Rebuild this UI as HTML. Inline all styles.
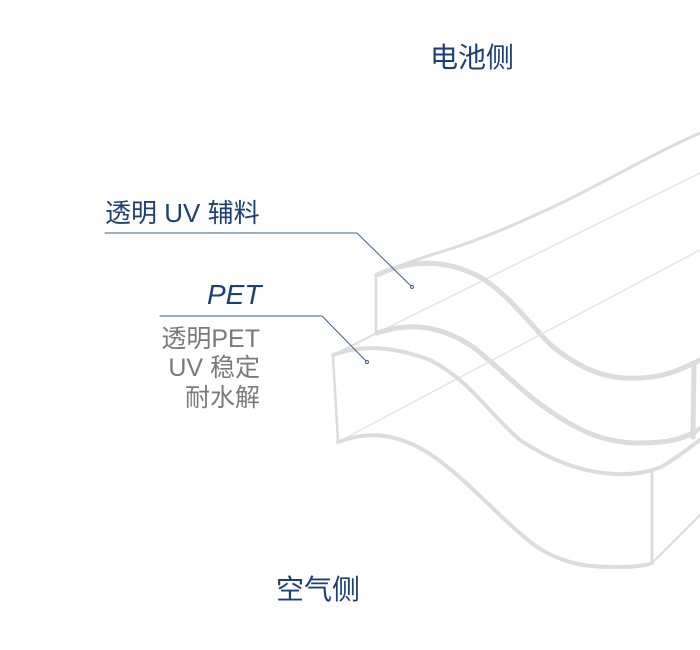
<!DOCTYPE html>
<html><head><meta charset="utf-8"><style>
html,body{margin:0;padding:0;background:#fff;}
body{width:700px;height:650px;position:relative;overflow:hidden;font-family:"Liberation Sans","Noto Sans CJK SC",sans-serif;}
.t{position:absolute;white-space:nowrap;line-height:1;}
.b{color:#1e3f73;}
.g{color:#7a7a7a;font-size:25px;text-align:right;width:200px;}
</style></head><body>
<svg width="700" height="650" style="position:absolute;left:0;top:0" fill="none" stroke-linecap="round" stroke-linejoin="round">
<g stroke="#dcdcdc">
<path d="M377,275 C400,265 430,255 453,248 C490,236 520,222 553,207 C600,185 650,155 700,133" stroke-width="3"/>
<path d="M377,333 L700,173" stroke-width="1.5" stroke="#e4e4e4"/>
<path d="M376,276 L376,334" stroke-width="2.5"/>
<path d="M377,275 C405,262 440,256 480,277 C510,295 530,325 553,347 C585,372 610,380 640,378 C665,377 680,370 700,360" stroke-width="5"/>
<path d="M694,365 L693,437" stroke-width="5"/>
<path d="M377,333 C410,322 440,325 473,347 C500,368 525,395 553,413 C585,435 610,443 640,443 C665,443 680,440 695,432" stroke-width="5"/>
<path d="M695,432 L700,428" stroke-width="4"/>
<path d="M333,355 L377,333" stroke-width="2"/>
<path d="M333,356 L338,442" stroke-width="2.5"/>
<path d="M338,442 L700,250" stroke-width="1.5" stroke="#e4e4e4"/>
<path d="M333,355 C355,347 385,343 430,360 C470,380 490,415 520,440 C550,460 580,472 615,474 C640,475 660,470 672,460 C685,452 692,445 700,440" stroke-width="4"/>
<path d="M338,442 C360,434 385,430 420,448 C460,470 500,520 537,547 C565,565 590,567 615,567 C630,567 645,566 652,563" stroke-width="4"/>
<path d="M652,472 L652,563" stroke-width="3"/>
<path d="M652,563 L700,515" stroke-width="2"/>
</g>
<g stroke="#3a5f95" stroke-width="1" fill="none">
<path d="M105,233 L357,233 L412,287"/>
<path d="M160,316 L322,316 L367,362"/>
</g>
<circle cx="412" cy="287" r="1.5" fill="#fff" stroke="#3a5f95"/>
<circle cx="367" cy="362" r="1.5" fill="#fff" stroke="#3a5f95"/>
</svg>
<div class="t b" style="left:430px;top:44px;font-size:28px;">电池侧</div>
<div class="t b" style="left:105px;top:200px;font-size:26px;">透明 UV 辅料</div>
<div class="t b" style="left:207px;top:281px;font-size:28px;font-style:italic;">PET</div>
<div class="t g" style="left:60px;top:327px;">透明PET</div>
<div class="t g" style="left:60px;top:356px;">UV 稳定</div>
<div class="t g" style="left:60px;top:386px;">耐水解</div>
<div class="t b" style="left:276px;top:576px;font-size:28px;">空气侧</div>
</body></html>
